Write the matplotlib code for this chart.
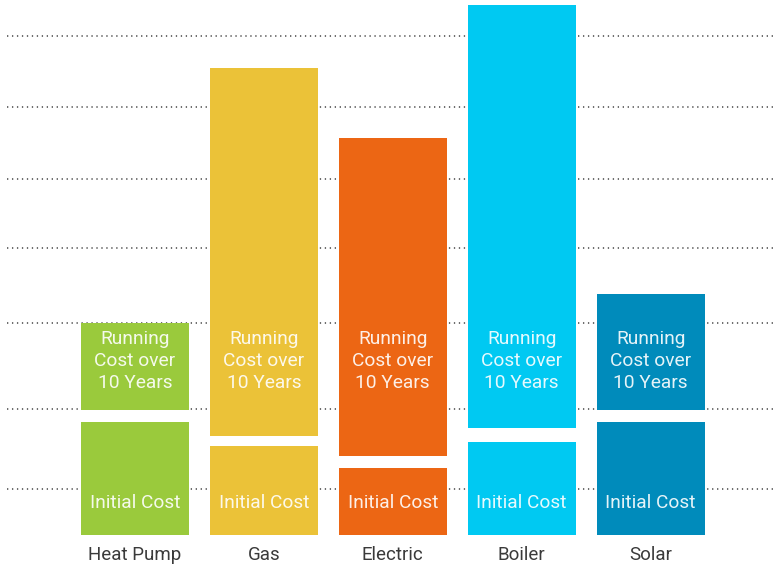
import matplotlib.pyplot as plt

# data (arbitrary units)
categories = ['Heat Pump', 'Gas', 'Electric', 'Boiler', 'Solar']
initial_cost = [113, 89, 67, 93, 113]
running_cost = [87, 368, 318, 423, 116]
gap = [12, 10, 12, 14, 12]
colors = ['#9aca3c', '#ebc238', '#ec6614', '#00c9f2', '#008bbb']
grid_levels = [46, 126, 212, 287, 356, 428, 499]

fig = plt.figure(figsize=(7.74, 5.70), dpi=100)
ax = fig.add_axes([0, 0, 1, 1])
ax.set_xlim(-1.047, 4.957)
ax.set_ylim(-35, 535)
ax.axis('off')

# dotted guide lines behind the bars
for g in grid_levels:
    ax.axhline(g, xmin=7 / 774, xmax=1, color='#444444', lw=1.1,
               dashes=(0.85, 2.4), zorder=0)

x = list(range(len(categories)))
w = 0.838
bottoms = [i + g for i, g in zip(initial_cost, gap)]
ax.bar(x, initial_cost, width=w, color=colors, zorder=2)
ax.bar(x, running_cost, width=w, bottom=bottoms, color=colors, zorder=2)

txt = dict(ha='center', va='center', color='white', alpha=0.9,
           fontsize=13.8, family=['Roboto', 'DejaVu Sans'], fontweight='normal')
for xi, name in zip(x, categories):
    ax.text(xi, 32, 'Initial Cost', zorder=3, **txt)
    ax.text(xi, 174, 'Running\nCost over\n10 Years', linespacing=1.25, zorder=3, **txt)
    ax.text(xi, -20, name, ha='center', va='center', color='#3a3a3a',
            fontsize=13.5, family=['Roboto', 'DejaVu Sans'], fontweight='normal')

fig.savefig('out.png', dpi=100)
